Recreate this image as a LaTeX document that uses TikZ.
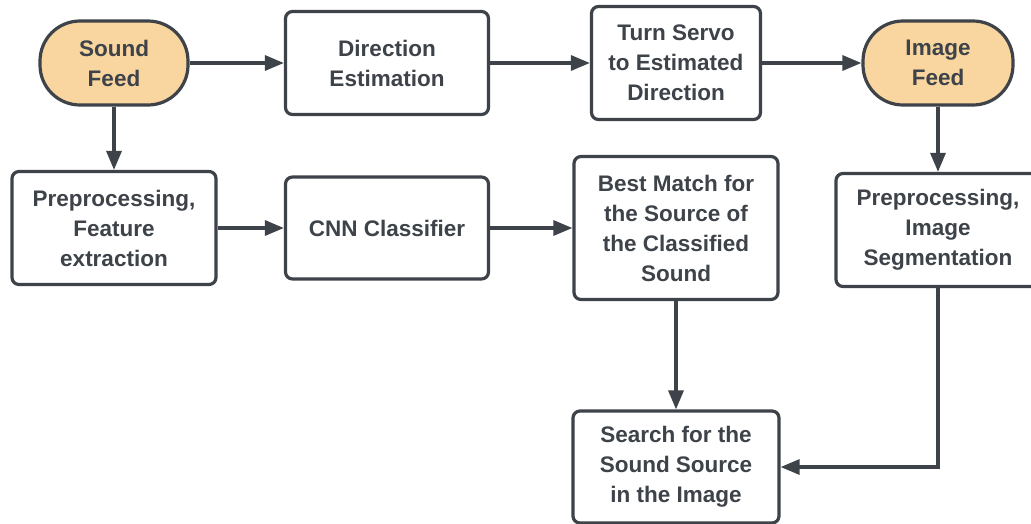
\documentclass[tikz,border=0pt]{standalone}
\usepackage{fontspec}
\setmainfont{Liberation Sans}
\usetikzlibrary{arrows.meta}
\definecolor{ink}{HTML}{3D4349}
\definecolor{peach}{HTML}{F9D5A0}
\tikzset{
  x=1pt, y=-1pt,
  base/.style={draw=ink, line width=3.2pt, text=ink, align=center,
    font=\fontsize{22.5}{30}\selectfont\bfseries, inner sep=0pt},
  proc/.style={base, fill=white, rounded corners=7pt},
  term/.style={base, fill=peach, rounded corners=40pt},
  flow/.style={draw=ink, line width=3.2pt, -{Triangle[length=19pt, width=15pt]}},
}
\begin{document}
\begin{tikzpicture}
\useasboundingbox (0,0) rectangle (1031,523);
% top row
\node[term, minimum width=148pt, minimum height=84pt] (sound) at (114,63) {Sound\\Feed};
\node[proc, minimum width=203pt, minimum height=103pt] (dir) at (387,63) {Direction\\Estimation};
\node[proc, minimum width=169pt, minimum height=113pt] (servo) at (676,63) {Turn Servo\\to Estimated\\Direction};
\node[term, minimum width=150pt, minimum height=84pt] (image) at (938,63) {Image\\Feed};
% middle row
\node[proc, minimum width=204pt, minimum height=113pt] (feat) at (114,228) {Preprocessing,\\Feature\\extraction};
\node[proc, minimum width=203pt, minimum height=102pt] (cnn) at (387,228) {CNN Classifier};
\node[proc, minimum width=204pt, minimum height=143pt] (match) at (676,228) {Best Match for\\the Source of\\the Classified\\Sound};
\node[proc, minimum width=204pt, minimum height=113pt] (seg) at (938,230) {Preprocessing,\\Image\\Segmentation};
% bottom
\node[proc, minimum width=206pt, minimum height=112pt] (search) at (676,467) {Search for the\\Sound Source\\in the Image};
% connectors
\draw[flow] (sound) -- (dir);
\draw[flow] (dir) -- (servo);
\draw[flow] (servo) -- (image);
\draw[flow] (sound) -- (feat);
\draw[flow] (image) -- (seg);
\draw[flow] (feat) -- (cnn);
\draw[flow] (cnn) -- (match);
\draw[flow] (match) -- (search);
\draw[flow] (seg.south) |- (search.east);
\end{tikzpicture}
\end{document}
